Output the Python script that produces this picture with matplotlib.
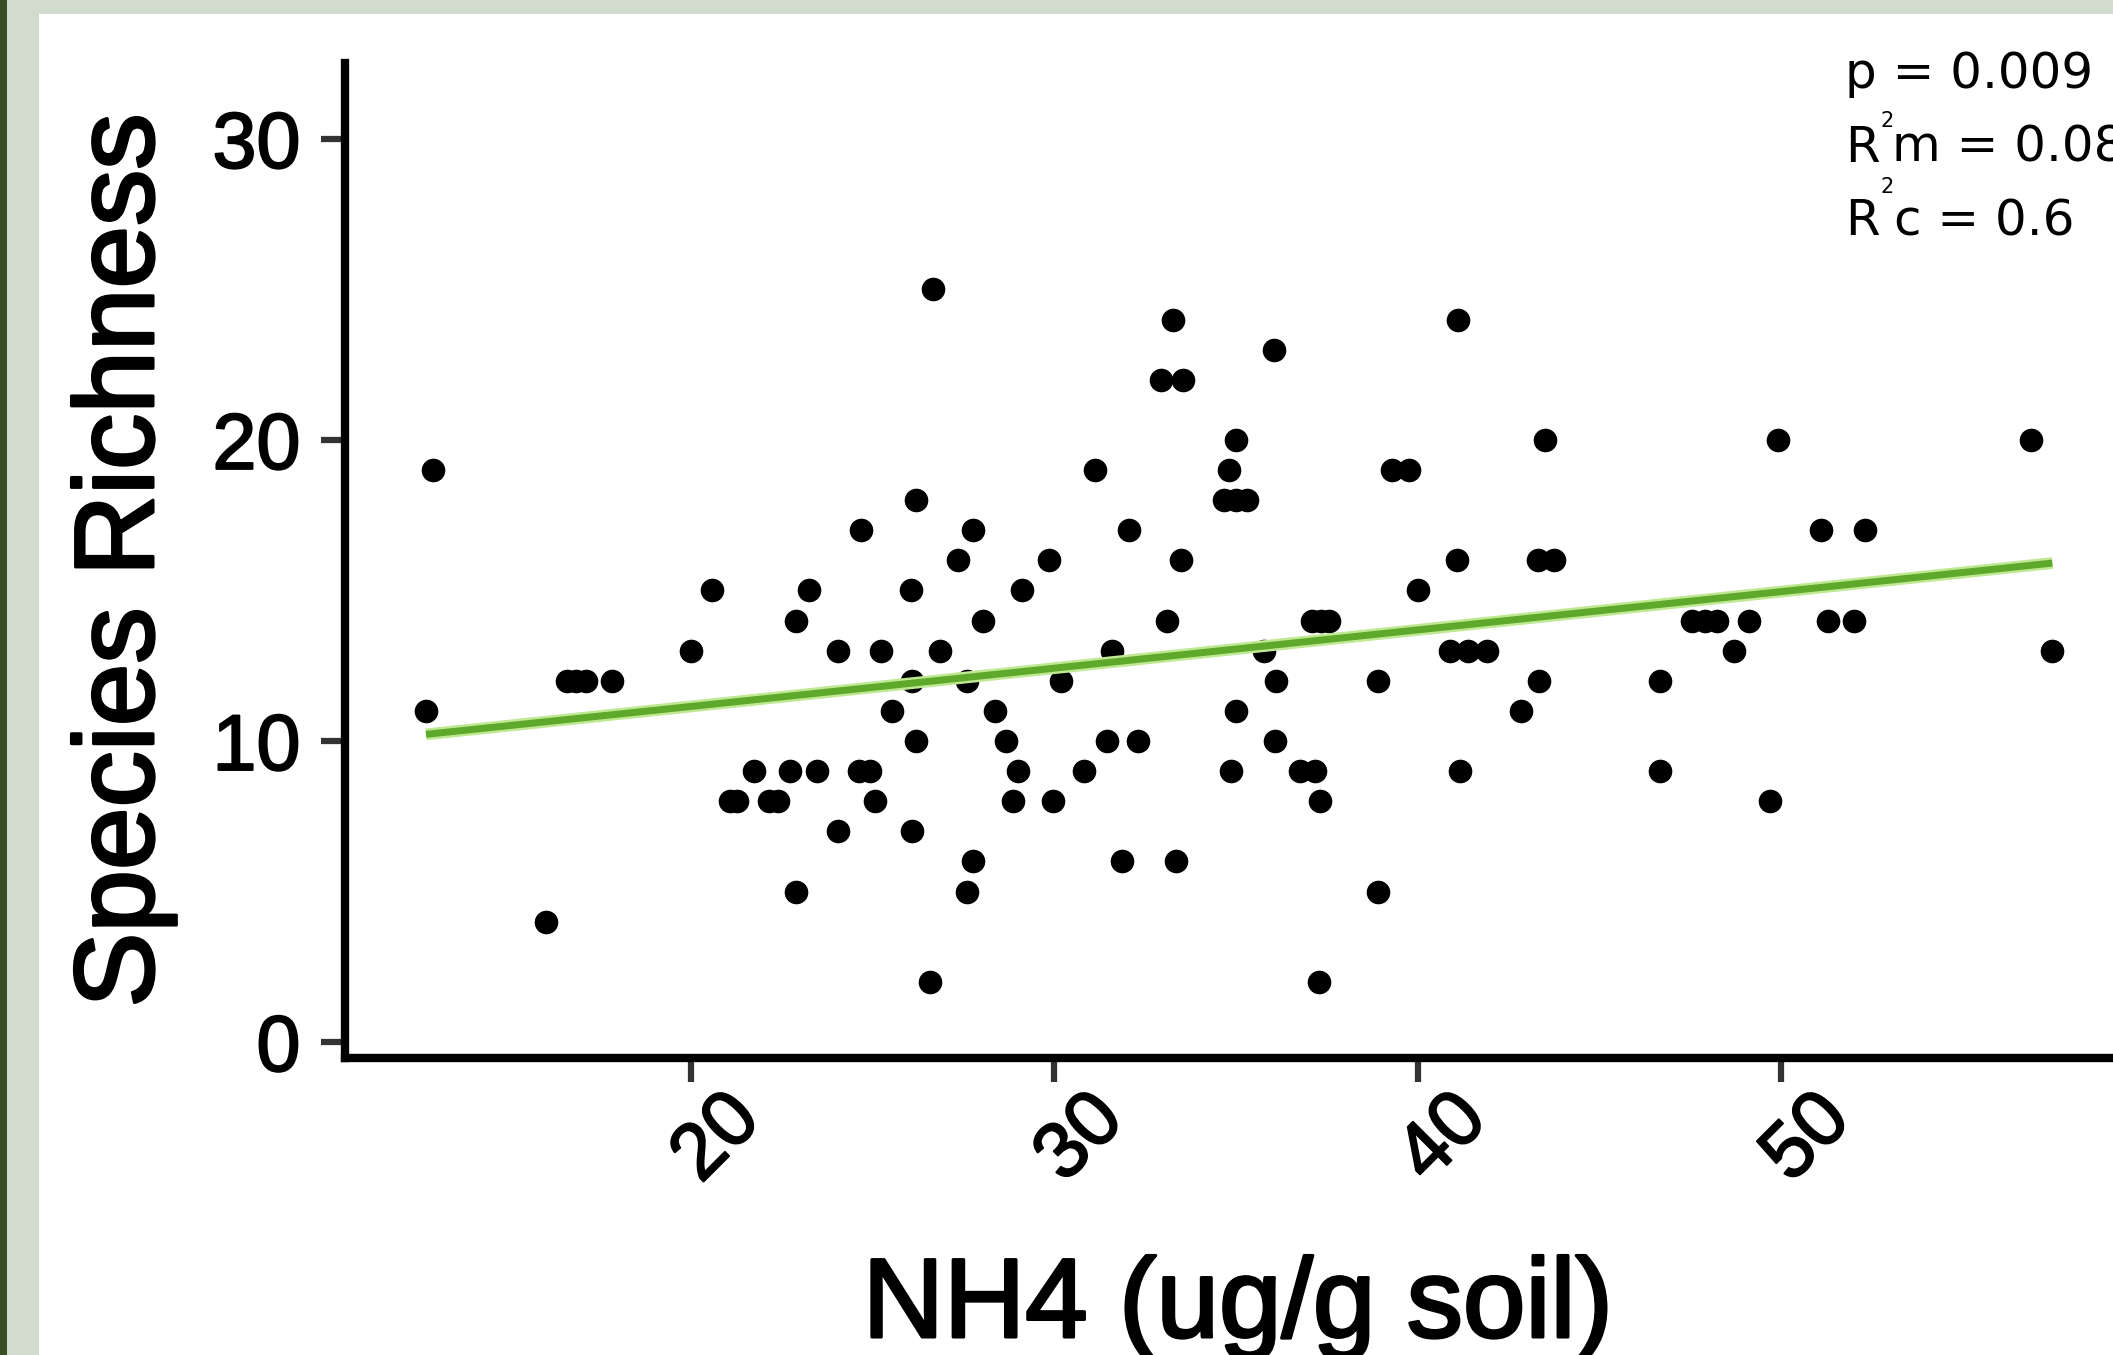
import matplotlib.pyplot as plt
import matplotlib.patches as patches
import matplotlib.patheffects as pe

W, H = 2113, 1355

# NH4 (ug/g soil) for every plot, grouped by species richness (one line per level)
nh4 = [
    26.65,
    33.27, 41.11,
    36.05,
    32.95, 33.55,
    35.0, 43.5, 49.92, 56.87,
    12.9, 31.12, 34.8, 39.3, 39.77,
    26.2, 34.67, 35.0, 35.3,
    24.68, 27.76, 32.06, 51.1, 52.31,
    27.35, 29.86, 33.5, 41.09, 43.32, 43.75,
    20.58, 23.25, 26.06, 29.12, 40.01,
    22.89, 28.04, 33.1, 37.1, 37.35, 37.55, 47.55, 47.9, 48.24, 49.12, 51.3, 52.0,
    20.0, 24.05, 25.23, 26.85, 31.59, 35.77, 40.9, 41.39, 41.9, 48.72, 57.47,
    16.6, 16.85, 17.1, 17.84, 26.08, 27.6, 30.18, 36.1, 38.9, 43.34, 46.67,
    12.71, 25.53, 28.37, 35.0, 42.85,
    26.2, 28.67, 31.45, 32.3, 36.07,
    21.73, 22.72, 23.46, 24.62, 24.93, 29.0, 30.82, 34.87, 36.76, 37.17, 41.17, 46.67,
    21.07, 21.27, 22.15, 22.4, 25.06, 28.86, 29.96, 37.31, 49.7,
    24.05, 26.08,
    27.76, 31.86, 33.35,
    22.89, 27.6, 38.9,
    16.0,
    26.58, 37.3,
]
richness = [
    25,
    24, 24,
    23,
    22, 22,
    20, 20, 20, 20,
    19, 19, 19, 19, 19,
    18, 18, 18, 18,
    17, 17, 17, 17, 17,
    16, 16, 16, 16, 16, 16,
    15, 15, 15, 15, 15,
    14, 14, 14, 14, 14, 14, 14, 14, 14, 14, 14, 14,
    13, 13, 13, 13, 13, 13, 13, 13, 13, 13, 13,
    12, 12, 12, 12, 12, 12, 12, 12, 12, 12, 12,
    11, 11, 11, 11, 11,
    10, 10, 10, 10, 10,
    9, 9, 9, 9, 9, 9, 9, 9, 9, 9, 9, 9,
    8, 8, 8, 8, 8, 8, 8, 8, 8,
    7, 7,
    6, 6, 6,
    5, 5, 5,
    4,
    2, 2,
]

# fitted line (ends of the model prediction)
fit_x = [12.71, 57.47]
fit_y = [10.22, 15.91]

x_ticks = [20, 30, 40, 50]
y_ticks = [0, 10, 20, 30]

p_value = '0.009'
r2_marginal = '0.08'
r2_conditional = '0.6'


def fig_xy(px, py):
    # pixel position (top-left origin) -> figure fraction
    return px / W, 1 - py / H


fig = plt.figure(figsize=(W / 100, H / 100), dpi=100)
fig.patch.set_facecolor('white')

# slide frame: dark strip, light band on the left and on top
light = '#d1dccf'
fig.patches.append(patches.Rectangle((0, 0), 1, 1, transform=fig.transFigure,
                                     facecolor=light, edgecolor='none', zorder=-3))
fig.patches.append(patches.Rectangle((39 / W, 0), 1, 1 - 14 / H, transform=fig.transFigure,
                                     facecolor='white', edgecolor='none', zorder=-2))
fig.patches.append(patches.Rectangle((0, 0), 7 / W, 1, transform=fig.transFigure,
                                     facecolor='#3b4f24', edgecolor='none', zorder=-1))

ax = fig.add_axes([345 / W, (H - 1058) / H, (W - 345) / W, (1058 - 63) / H])
ax.set_facecolor('white')

ax.plot(nh4, richness, 'o', color='black', markersize=17, markeredgewidth=0, zorder=2)

# regression line with a light halo
ax.plot(fit_x, fit_y, color='#bfe893', linewidth=8.5, solid_capstyle='butt', zorder=3)
ax.plot(fit_x, fit_y, color='#5ea82b', linewidth=5, solid_capstyle='butt', zorder=4)

ax.set_xlim(10.48, 59.14)
ax.set_ylim(-0.53, 32.52)

for side in ['top', 'right']:
    ax.spines[side].set_visible(False)
for side in ['left', 'bottom']:
    ax.spines[side].set_linewidth(6)
    ax.spines[side].set_color('black')

ax.set_xticks(x_ticks)
ax.set_yticks(y_ticks)
ax.set_xticklabels([str(v) for v in x_ticks])
ax.set_yticklabels([str(v) for v in y_ticks])
ax.tick_params(axis='both', length=17, width=4.5, color='#333333',
               labelsize=57, labelcolor='black')
ax.tick_params(axis='y', pad=15)
ax.tick_params(axis='x', pad=22)
tick_fx = [pe.withStroke(linewidth=1.4, foreground='black')]
for lab in ax.get_xticklabels() + ax.get_yticklabels():
    lab.set_family('Liberation Sans')
    lab.set_path_effects(tick_fx)
plt.setp(ax.get_xticklabels(), rotation=45, ha='center', va='top', rotation_mode='anchor')

label_fx = [pe.withStroke(linewidth=2.2, foreground='black')]
ax.set_xlabel('NH4 (ug/g soil)', fontsize=81, family='Liberation Sans')
ax.xaxis.label.set_va('baseline')
ax.xaxis.label.set_path_effects(label_fx)
ax.xaxis.set_label_coords((1238 - 345) / (W - 345), (1058 - 1337) / (1058 - 63))

ax.set_ylabel('Species Richness', fontsize=81, family='Liberation Sans')
ax.yaxis.label.set_va('baseline')
ax.yaxis.label.set_path_effects(label_fx)
ax.yaxis.set_label_coords((153 - 345) / (W - 345), 0.5)

# model statistics in the top right corner
stat_font = dict(family='DejaVu Sans', fontsize=36, color='black', va='baseline', ha='left')
sup_font = dict(family='DejaVu Sans', fontsize=15, color='black', va='baseline', ha='left')
fig.text(*fig_xy(1845, 88), 'p = ' + p_value, **stat_font)
fig.text(*fig_xy(1845, 162), 'R', **stat_font)
fig.text(*fig_xy(1881, 127), '2', **sup_font)
fig.text(*fig_xy(1892, 162), 'm = ' + r2_marginal, **stat_font)
fig.text(*fig_xy(1845, 235), 'R', **stat_font)
fig.text(*fig_xy(1881, 193), '2', **sup_font)
fig.text(*fig_xy(1894, 235), 'c = ' + r2_conditional, **stat_font)

fig.savefig('out.png', dpi=100)
